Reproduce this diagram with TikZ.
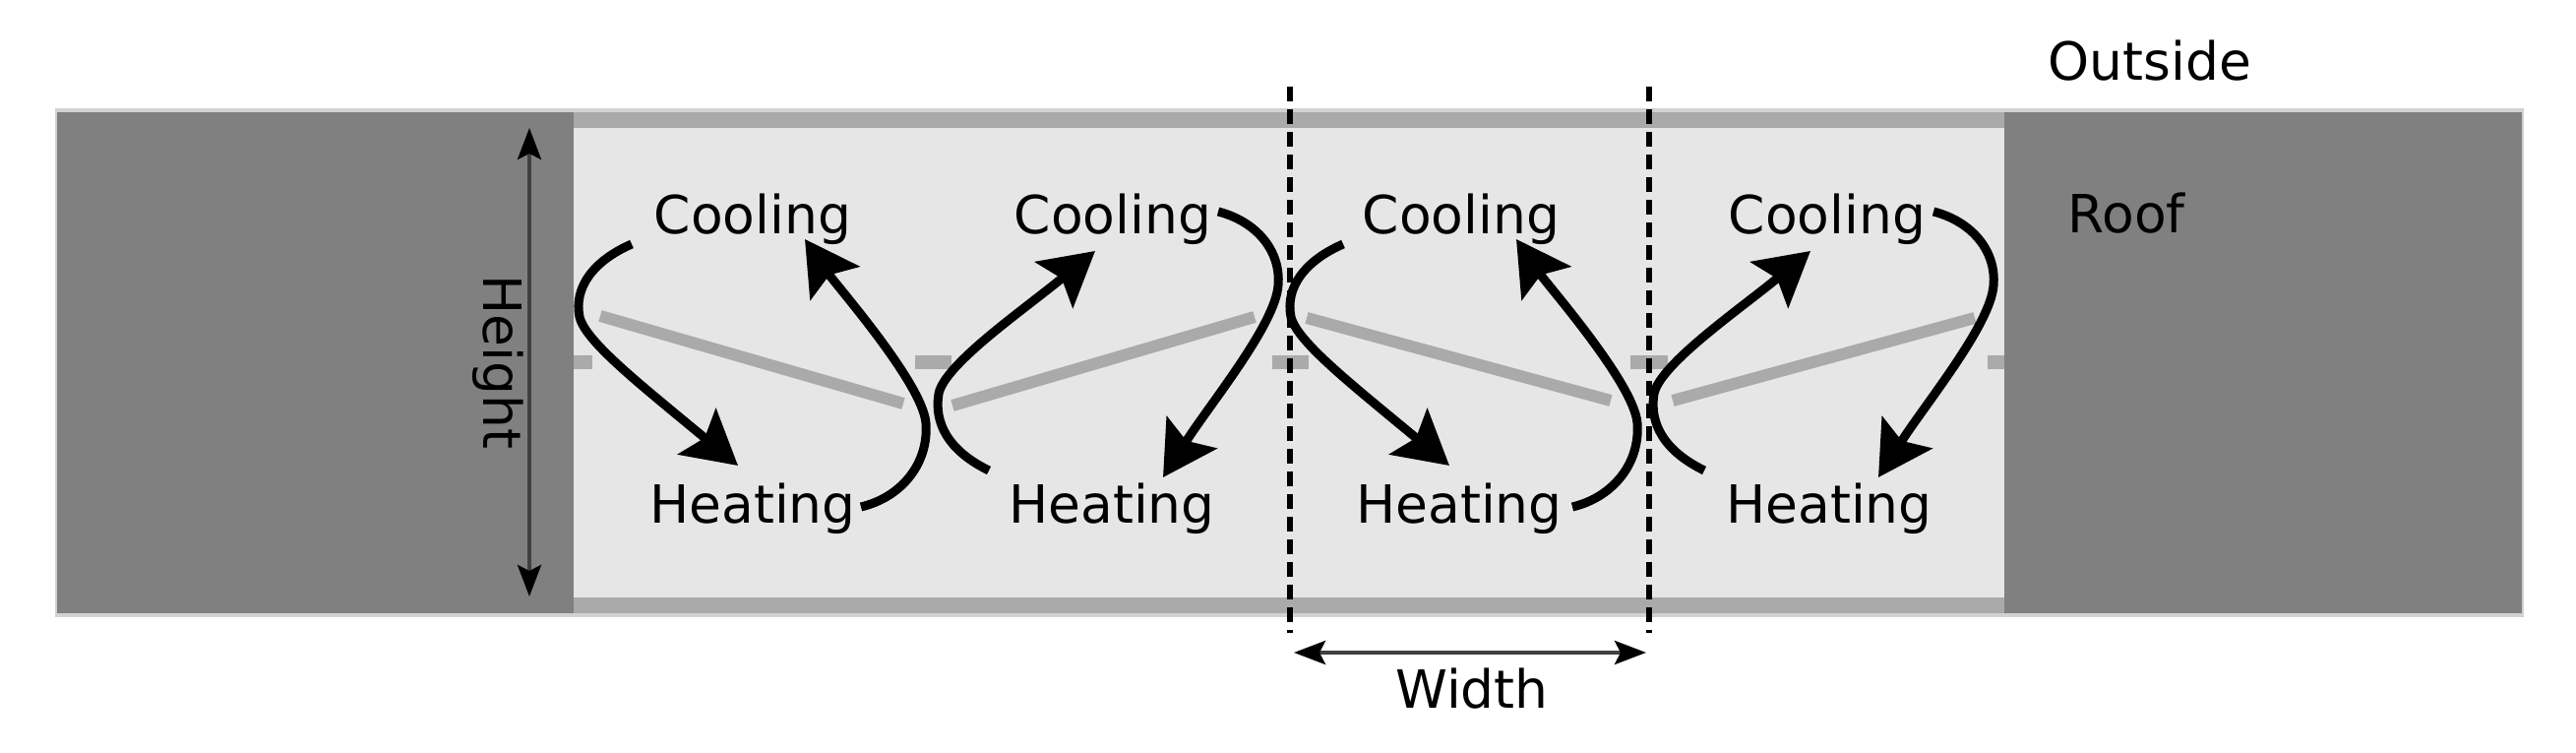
\documentclass[tikz,border=0pt]{standalone}
\usepackage{fontspec}
\setmainfont{DejaVu Sans}
\usetikzlibrary{arrows.meta}
\definecolor{roofgray}{HTML}{808080}
\definecolor{cavity}{HTML}{E6E6E6}
\definecolor{slat}{HTML}{AAAAAA}
\definecolor{edgegray}{HTML}{D2D2D2}
\definecolor{dimgray}{HTML}{404040}
\begin{document}
\begin{tikzpicture}[x=0.01cm,y=-0.01cm,
  lbl/.style={font=\fontsize{15.2pt}{18pt}\selectfont, inner sep=0pt, anchor=base},
  flow/.style={black, line width=0.09cm, -{Stealth[length=0.54cm,width=0.6cm,inset=0.1cm]}},
  slatline/.style={slat, line width=0.12cm},
  stub/.style={slat, line width=0.14cm},
  dim/.style={dimgray, line width=0.04cm,
    {Stealth[length=0.32cm,width=0.24cm,inset=0.06cm,color=black]}-{Stealth[length=0.32cm,width=0.24cm,inset=0.06cm,color=black]}},
  divider/.style={black, line width=0.06cm, dash pattern=on 0.15cm off 0.08cm}]
\fill[white] (0,0) rectangle (2618,765);
\useasboundingbox (0,0) rectangle (2618,765);
% band
\fill[edgegray] (56,110) rectangle (2565,627);
\fill[roofgray] (58,114) rectangle (583,623);
\fill[roofgray] (2037,114) rectangle (2563,623);
\fill[cavity] (583,114) rectangle (2037,623);
\fill[slat] (583,114) rectangle (2037,130);
\fill[slat] (583,607) rectangle (2037,623);
% stubs and slats
\draw[stub] (583,368) -- (602,368);
\draw[stub] (930,368) -- (967,368);
\draw[stub] (1293,368) -- (1330,368);
\draw[stub] (1657,368) -- (1695,368);
\draw[stub] (2020,368) -- (2037,368);
\draw[slatline] (610,321) -- (918,410);
\draw[slatline] (968,412) -- (1275,322);
\draw[slatline] (1328,323) -- (1637,407);
\draw[slatline] (1700,407) -- (2007,323);
% labels
\node[lbl] (cool1) at (765,238) {Cooling};
\node[lbl] (cool2) at (1131,238) {Cooling};
\node[lbl] (cool3) at (1485,238) {Cooling};
\node[lbl] (cool4) at (1857,238) {Cooling};
\node[lbl] (heat1) at (765,532) {Heating};
\node[lbl] (heat2) at (1130,532) {Heating};
\node[lbl] (heat3) at (1483,532) {Heating};
\node[lbl] (heat4) at (1859,532) {Heating};
\node[lbl] (outside) at (2185,82) {Outside};
\node[lbl, anchor=base west] (roof) at (2101,237) {Roof};
\node[lbl] (width) at (1496,720) {Width};
\node[lbl, rotate=-90] (height) at (491,368) {Height};
% flow arrows, units 1 and 3
\foreach \s/\n in {0/1, 723/3}{
  \begin{scope}[shift={(\s,0)}]
    \coordinate (d\n s) at (642,248);
    \coordinate (d\n e) at (750,473);
    \coordinate (u\n s) at (875,515);
    \coordinate (u\n e) at (818,243);
    \draw[flow] (d\n s) .. controls (603,265) and (583,292) .. (589,322)
      .. controls (595,347) and (650,390) .. (d\n e);
    \draw[flow] (u\n s) .. controls (917,505) and (944,470) .. (941,430)
      .. controls (938,390) and (850,290) .. (u\n e);
  \end{scope}
}
% flow arrows, units 2 and 4
\foreach \s/\n in {0/2, 727/4}{
  \begin{scope}[shift={(\s,0)}]
    \coordinate (u\n s) at (1005,478);
    \coordinate (u\n e) at (1113,255);
    \coordinate (d\n s) at (1238,215);
    \coordinate (d\n e) at (1182,485);
    \draw[flow] (u\n s) .. controls (964,458) and (949,430) .. (954,400)
      .. controls (960,370) and (1040,315) .. (u\n e);
    \draw[flow] (d\n s) .. controls (1277,225) and (1302,255) .. (1299,290)
      .. controls (1296,330) and (1230,410) .. (d\n e);
  \end{scope}
}
% dimension lines
\coordinate (htop) at (538,130);
\coordinate (hbot) at (538,606);
\draw[dim] (htop) -- (hbot);
\coordinate (dl1t) at (1311,88);
\coordinate (dl1b) at (1311,643);
\coordinate (dl2t) at (1676,88);
\coordinate (dl2b) at (1676,643);
\draw[divider] (dl1t) -- (dl1b);
\draw[divider] (dl2t) -- (dl2b);
\coordinate (wl) at (1315,663);
\coordinate (wr) at (1673,663);
\draw[dim] (wl) -- (wr);
\end{tikzpicture}
\end{document}
